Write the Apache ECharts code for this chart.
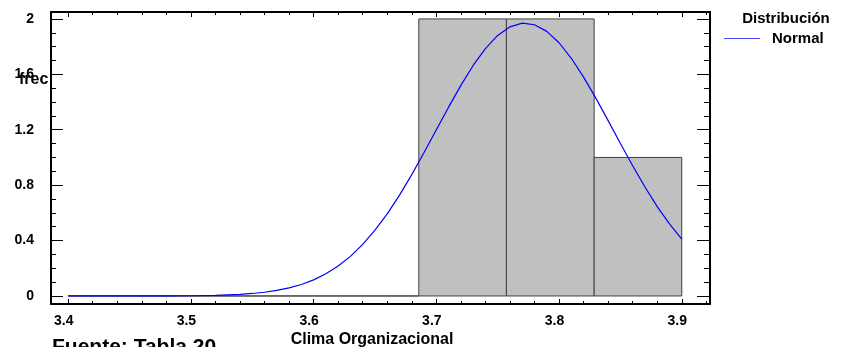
<!DOCTYPE html>
<html>
<head>
<meta charset="utf-8">
<script src="https://cdn.jsdelivr.net/npm/echarts@6/dist/echarts.min.js"></script>
<style>
  html, body { margin: 0; background: #fff; }
  #chart { width: 844px; height: 347px; }
</style>
</head>
<body>
<div id="chart"></div>
<script>
// histogram bins (edges) and counts
const binEdges = [3.4, 3.4714, 3.5429, 3.6143, 3.6857, 3.7571, 3.8286, 3.9]
const binCounts = [0, 0, 0, 0, 2, 2, 1]

// fitted normal curve
const curveX = [3.40, 3.42, 3.44, 3.46, 3.48, 3.50, 3.52, 3.54, 3.55, 3.56, 3.57, 3.58, 3.59,
  3.60, 3.61, 3.62, 3.63, 3.64, 3.65, 3.66, 3.67, 3.68, 3.69, 3.70, 3.71, 3.72, 3.73, 3.74,
  3.75, 3.76, 3.77, 3.78, 3.79, 3.80, 3.81, 3.82, 3.83, 3.84, 3.85, 3.86, 3.87, 3.88, 3.89, 3.90]
const curveY = [0, 0, 0, 0.0002, 0.0006, 0.0017, 0.0045, 0.011, 0.018, 0.027, 0.040, 0.058, 0.083,
  0.116, 0.160, 0.216, 0.286, 0.372, 0.475, 0.593, 0.728, 0.876, 1.036, 1.20, 1.363, 1.52, 1.664, 1.786,
  1.881, 1.943, 1.97, 1.958, 1.910, 1.828, 1.716, 1.58, 1.428, 1.266, 1.101, 0.94, 0.787, 0.645, 0.52, 0.411]

// tick labels
const xMajor = [3.4, 3.5, 3.6, 3.7, 3.8, 3.9]
const xMinor = [3.40, 3.42, 3.44, 3.46, 3.48, 3.50, 3.52, 3.54, 3.56, 3.58, 3.60, 3.62, 3.64, 3.66,
  3.68, 3.70, 3.72, 3.74, 3.76, 3.78, 3.80, 3.82, 3.84, 3.86, 3.88, 3.90, 3.92]
const yMajor = [0, 0.4, 0.8, 1.2, 1.6, 2]
const yMinor = [0, 0.1, 0.2, 0.3, 0.4, 0.5, 0.6, 0.7, 0.8, 0.9, 1.0, 1.1, 1.2, 1.3, 1.4, 1.5, 1.6,
  1.7, 1.8, 1.9, 2.0]

const font = '"Liberation Sans", Arial, sans-serif'
const xRange = { min: 3.386, max: 3.923 }
const yRange = { min: -0.058, max: 2.05 }
const gridBox = { left: 51, right: 134, top: 12, bottom: 43 }

const makeAxis = (type, gridIndex, position, ticks, len, withLine, labels) => ({
  type: 'value',
  gridIndex,
  position,
  ...(type === 'x' ? xRange : yRange),
  axisLine: { show: withLine, onZero: false, lineStyle: { color: '#000', width: 2 } },
  axisTick: { show: true, inside: true, length: len, customValues: ticks, lineStyle: { color: '#000', width: 1 } },
  axisLabel: labels
    ? {
        show: true,
        customValues: labels,
        margin: type === 'x' ? 10 : 17,
        padding: type === 'x' ? [0, 9, 0, 0] : 0,
        color: '#000',
        fontWeight: 'bold',
        fontSize: 14,
        fontFamily: font,
      }
    : { show: false },
  splitLine: { show: false },
})

const chart = echarts.init(document.getElementById('chart'))

const option = {
  animation: false,
  grid: [
    { ...gridBox },
    { ...gridBox },
  ],
  xAxis: [
    makeAxis('x', 0, 'bottom', xMajor, 5, true, xMajor),
    makeAxis('x', 0, 'top', xMajor, 5, true, null),
    makeAxis('x', 1, 'bottom', xMinor, 3, false, null),
    makeAxis('x', 1, 'top', xMinor, 3, false, null),
  ],
  yAxis: [
    makeAxis('y', 0, 'left', yMajor, 12, true, yMajor),
    makeAxis('y', 0, 'right', yMajor, 13, true, null),
    makeAxis('y', 1, 'left', yMinor, 5, false, null),
    makeAxis('y', 1, 'right', yMinor, 6, false, null),
  ],
  legend: {
    data: [{ name: 'Normal', icon: 'rect', itemStyle: { color: '#4848ff', borderWidth: 0 } }],
    left: 724,
    top: 31,
    padding: 0,
    itemWidth: 36,
    itemHeight: 1,
    textStyle: { color: '#000', fontWeight: 'bold', fontSize: 15, fontFamily: font, padding: [6, 0, 0, 7] },
  },
  graphic: [
    { type: 'text', x: 786, y: 11, style: { text: 'Distribución', align: 'center', fill: '#000', font: 'bold 15px ' + font } },
    { type: 'text', x: 19, y: 72, style: { text: 'frec', align: 'left', fill: '#000', font: 'bold 16px ' + font } },
    { type: 'text', x: 372, y: 332, style: { text: 'Clima Organizacional', align: 'center', fill: '#000', font: 'bold 16px ' + font } },
    { type: 'text', x: 52, y: 337, style: { text: 'Fuente: Tabla 20', align: 'left', fill: '#000', font: 'bold 21px ' + font } },
  ],
  series: [
    {
      name: 'Histograma',
      type: 'custom',
      xAxisIndex: 0,
      yAxisIndex: 0,
      data: binCounts.map((c, i) => [binEdges[i], binEdges[i + 1], c]),
      renderItem: (params, api) => {
        const p0 = api.coord([api.value(0), api.value(2)])
        const p1 = api.coord([api.value(1), 0])
        return {
          type: 'rect',
          shape: { x: p0[0], y: p0[1], width: p1[0] - p0[0], height: p1[1] - p0[1] },
          style: { fill: '#c0c0c0', stroke: '#404040', lineWidth: 1 },
        }
      },
      silent: true,
      z: 1,
    },
    {
      name: 'Normal',
      type: 'line',
      xAxisIndex: 0,
      yAxisIndex: 0,
      data: curveX.map((x, i) => [x, curveY[i]]),
      symbol: 'none',
      lineStyle: { color: '#0000ff', width: 1.2 },
      itemStyle: { color: '#0000ff' },
      z: 3,
    },
  ],
}

chart.setOption(option)
</script>
</body>
</html>
